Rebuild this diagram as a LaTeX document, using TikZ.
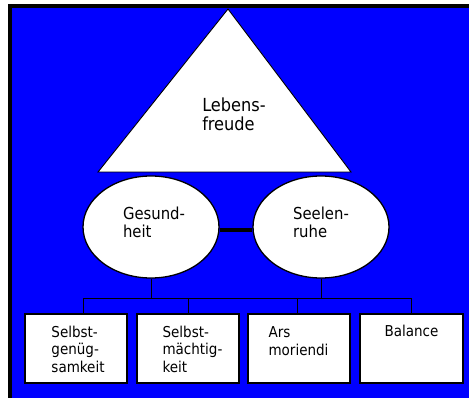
\documentclass[tikz,border=0pt]{standalone}
\usepackage{fontspec}
\setmainfont{DejaVu Sans Condensed}
\usetikzlibrary{shapes.geometric}
\definecolor{bgblue}{RGB}{0,0,255}
\begin{document}
\begin{tikzpicture}[x=1pt,y=-1pt,
  oval/.style={ellipse,draw=black,line width=1.3pt,fill=white,minimum width=136pt,minimum height=102pt,inner sep=0pt},
  leaf/.style={rectangle,draw=black,line width=1.3pt,fill=white,minimum width=102pt,minimum height=69pt,inner sep=0pt},
  boxtext/.style={align=left,inner sep=0pt,anchor=base,font=\fontsize{15}{17.5}\selectfont},
  ovaltext/.style={align=left,inner sep=0pt,anchor=base,font=\fontsize{16.5}{18}\selectfont},
  tritext/.style={align=left,inner sep=0pt,anchor=base,font=\fontsize{18}{18.5}\selectfont},
  conn/.style={draw=black,line width=0.9pt}]
\useasboundingbox (0,0) rectangle (469,398);
\fill[black] (8,4) rectangle (469,398);
\fill[bgblue] (12,8) rectangle (469,398);
% triangle
\coordinate (apex) at (228,9);
\coordinate (bl) at (98,172);
\coordinate (br) at (351,172);
\draw[black,line width=0.9pt,fill=white] (apex) -- (bl) -- (br) -- cycle;
\node[tritext] (L) at (234,130.5) {Lebens-\\freude};
% ellipses
\node[oval] (G) at (151,227) {};
\node[oval] (S) at (321,227) {};
\node[ovaltext] (Gt) at (154,238) {Gesund-\\heit};
\node[ovaltext] (St) at (321,238) {Seelen-\\ruhe};
\draw[black,line width=4pt] ([yshift=-3pt]G.east) -- ([yshift=-3pt]S.west);
% boxes
\node[leaf] (B1) at (76,348.5) {};
\node[leaf] (B2) at (188,348.5) {};
\node[leaf] (B3) at (299,348.5) {};
\node[leaf,minimum width=103pt] (B4) at (411.5,348.5) {};
\node[boxtext] (B1t) at (78,372) {Selbst-\\genüg-\\samkeit};
\node[boxtext] (B2t) at (192.5,372) {Selbst-\\mächtig-\\keit};
\node[boxtext] (B3t) at (298.5,355.5) {Ars\\moriendi};
\node[boxtext] (B4t) at (411.5,337) {Balance};
% connectors
\coordinate (busL) at (83,298);
\coordinate (busR) at (411,298);
\coordinate (d1) at (83,314);
\coordinate (d2) at (188,314);
\coordinate (d3) at (297,314);
\coordinate (d4) at (411,314);
\draw[conn] (G.south) -- (G.south |- busL);
\draw[conn] (S.south) -- (S.south |- busL);
\draw[conn] (busL) -- (busR);
\draw[conn] (d1 |- busL) -- (d1);
\draw[conn] (d2 |- busL) -- (d2);
\draw[conn] (d3 |- busL) -- (d3);
\draw[conn] (d4 |- busL) -- (d4);
\end{tikzpicture}
\end{document}
